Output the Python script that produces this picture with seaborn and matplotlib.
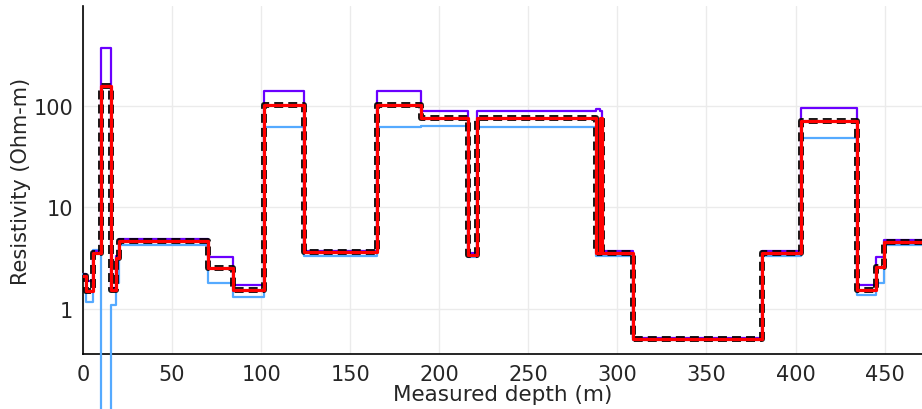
import numpy as np
import pandas as pd
import matplotlib
matplotlib.use("Agg")
import matplotlib.pyplot as plt
import seaborn as sns

# Layer tops (m) shared by all series, last entry is the end of the log
depth = [0, 1.7, 5.4, 9.9, 15.5, 18.4, 20.4, 70, 84, 101.5, 124.3, 165, 190, 216, 221,
         288.2, 290.0, 291.6, 309, 381, 403, 434.6, 445, 449.6, 471]

# Resistivity (Ohm-m) per layer (last value repeated for the end point)
upper = [2.2, 1.85, 3.7, 380, 1.6, 3.3, 4.9, 3.2, 1.7, 141, 3.7, 141, 90, 3.5, 89,
         93, 89, 3.7, 0.51, 3.7, 97, 1.69, 3.2, 4.8, 4.8]
lower = [2.2, 1.15, 3.77, 0.0005, 1.08, 1.77, 4.27, 1.77, 1.3, 63, 3.3, 63, 64, 3.2, 63,
         3.3, 3.3, 3.3, 0.49, 3.3, 49, 1.36, 1.77, 4.27, 4.27]
estimate = [2.08, 1.5, 3.5, 158, 1.52, 3.14, 4.6, 2.5, 1.52, 102, 3.6, 102, 77, 3.4, 76,
            3.5, 76, 3.5, 0.5, 3.5, 72, 1.52, 2.56, 4.54, 4.54]
truth = [2.08, 1.5, 3.5, 158, 1.52, 3.14, 4.6, 2.5, 1.52, 102, 3.6, 102, 77, 3.4, 76,
         3.5, 76, 3.5, 0.5, 3.5, 72, 1.52, 2.56, 4.54, 4.54]

df = pd.DataFrame({"depth": depth, "upper": upper, "lower": lower,
                   "estimate": estimate, "truth": truth})

sns.set_style("white")
plt.rcParams["font.family"] = ["DejaVu Sans"]

fig = plt.figure(figsize=(9.22, 4.10), dpi=100)
ax = fig.add_axes([83/922, 1 - 355/410, 1 - 83/922, (355 - 7)/410])

sns.lineplot(data=df, x="depth", y="lower", ax=ax, color="#55aaff", lw=1.6,
             drawstyle="steps-post", estimator=None, sort=False, clip_on=False, zorder=3)
sns.lineplot(data=df, x="depth", y="upper", ax=ax, color="#6a00ff", lw=1.6,
             drawstyle="steps-post", estimator=None, sort=False, zorder=4)
sns.lineplot(data=df, x="depth", y="truth", ax=ax, color="black", lw=4.3,
             drawstyle="steps-post", estimator=None, sort=False, zorder=5,
             linestyle=(0, (1.5, 0.85)), alpha=0.9)
sns.lineplot(data=df, x="depth", y="estimate", ax=ax, color="#ff0000", lw=2.3,
             drawstyle="steps-post", estimator=None, sort=False, zorder=6)

ax.set_yscale("log")
ax.set_ylim(0.355, 980)
ax.set_xlim(0, 471)
ax.set_xticks([0, 50, 100, 150, 200, 250, 300, 350, 400, 450])
ax.set_yticks([1, 10, 100])
ax.set_yticklabels(["1", "10", "100"])
ax.yaxis.set_minor_locator(matplotlib.ticker.NullLocator())

ax.grid(True, which="major", color="#ebebeb", lw=1)
ax.set_axisbelow(True)
for s in ["top", "right"]:
    ax.spines[s].set_visible(False)
for s in ["left", "bottom"]:
    ax.spines[s].set_color("black")
    ax.spines[s].set_linewidth(1.2)
ax.tick_params(axis="both", which="major", direction="out", length=5, width=1,
               color="#444444", labelsize=15, pad=2)

ax.set_xlabel("Measured depth (m)", fontsize=15.5, labelpad=0)
ax.set_ylabel("Resistivity (Ohm-m)", fontsize=15, labelpad=2)

fig.savefig("out.png", dpi=100)
